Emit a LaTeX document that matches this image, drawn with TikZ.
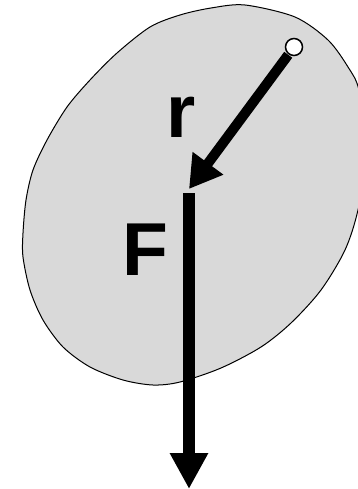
\documentclass[tikz,border=0pt]{standalone}
\usepackage{fontspec}
\setmainfont{Liberation Sans}
\usetikzlibrary{arrows.meta}
\definecolor{bodygray}{HTML}{D9D9D9}
\tikzset{
  lbl/.style={font=\bfseries\fontsize{75}{75}\selectfont, inner sep=0pt},
  vec/.style={line width=#1, draw=black},
}
\begin{document}
\begin{tikzpicture}[x=1pt,y=-1pt]
\useasboundingbox (0,0) rectangle (358,489);
\begin{scope}
\clip (0,0) rectangle (358,489);
\draw[fill=bodygray, line width=1pt] plot[smooth cycle, tension=0.5] coordinates {
 (245,5) (295,17) (328,40) (348,67) (359,90) (368,150) (358,210) (345,250)
 (321,290) (291,323) (261,347) (221,368) (180,382) (153,385) (123,380)
 (90,367) (63,347) (43,320) (30,290) (23,257) (23,233) (26,200) (33,170)
 (47,140) (67,107) (90,80) (117,53) (150,27) (180,15) (211,8)};
\end{scope}
\node[circle, minimum size=19pt, inner sep=0pt] (o) at (294,47) {};
\coordinate (p) at (189,189);
\coordinate (fs) at (189,193);
\coordinate (fe) at (189,489);
\draw[vec=10pt, -{Triangle[length=32pt,width=36pt]}] (o) -- (p);
\draw[vec=12pt, -{Triangle[length=36pt,width=36pt]}] (fs) -- (fe);
\draw[fill=white, line width=1.5pt] (o) circle (8.5pt);
\node[lbl] (r) at (181,117) {r};
\node[lbl] (F) at (145,250) {F};
\end{tikzpicture}
\end{document}
